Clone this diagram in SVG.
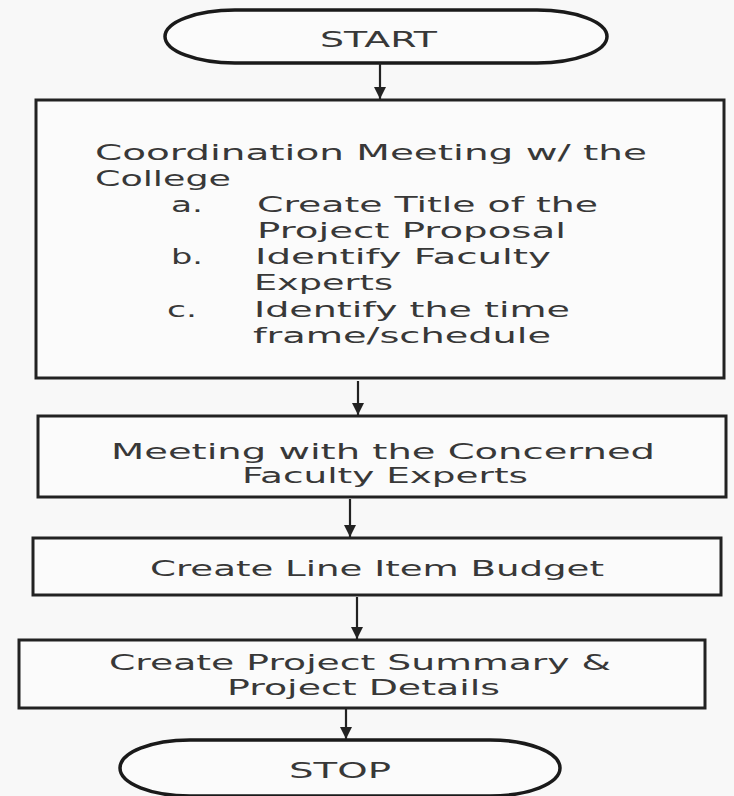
<svg xmlns="http://www.w3.org/2000/svg" width="734" height="796" viewBox="0 0 734 796">
<defs>
<marker id="ah" markerWidth="14" markerHeight="12" refX="12" refY="6" orient="auto" markerUnits="userSpaceOnUse">
<path d="M0,0 L12,6 L0,12 Z" fill="#222"/>
</marker>
<style>
.box{fill:#fbfbfb;stroke:#222;stroke-width:3}
.term{fill:#fbfbfb;stroke:#1a1a1a;stroke-width:3.5}
.t{font-family:"DejaVu Sans","Noto Sans",sans-serif;font-size:21px;fill:#383838}
.conn{stroke:#222;stroke-width:2.2;fill:none;marker-end:url(#ah)}
</style>
</defs>
<rect width="734" height="796" fill="#f8f8f8"/>
<g id="start">
<rect class="term" x="165" y="10" width="442" height="53" rx="70" ry="26.5"/>
<text class="t" x="320" y="47" textLength="117" lengthAdjust="spacingAndGlyphs">START</text>
</g>
<g id="coordination">
<rect class="box" x="36" y="100" width="688" height="278"/>
<text class="t" x="95" y="160" textLength="552" lengthAdjust="spacingAndGlyphs">Coordination Meeting w/ the</text>
<text class="t" x="95" y="186" textLength="136" lengthAdjust="spacingAndGlyphs">College</text>
<text class="t" x="171" y="212" textLength="32" lengthAdjust="spacingAndGlyphs">a.</text>
<text class="t" x="257" y="212" textLength="341" lengthAdjust="spacingAndGlyphs">Create Title of the</text>
<text class="t" x="257" y="238" textLength="309" lengthAdjust="spacingAndGlyphs">Project Proposal</text>
<text class="t" x="171" y="264" textLength="32" lengthAdjust="spacingAndGlyphs">b.</text>
<text class="t" x="255" y="264" textLength="296" lengthAdjust="spacingAndGlyphs">Identify Faculty</text>
<text class="t" x="254" y="290" textLength="139" lengthAdjust="spacingAndGlyphs">Experts</text>
<text class="t" x="167" y="317" textLength="30" lengthAdjust="spacingAndGlyphs">c.</text>
<text class="t" x="254" y="317" textLength="316" lengthAdjust="spacingAndGlyphs">Identify the time</text>
<text class="t" x="253" y="343" textLength="298" lengthAdjust="spacingAndGlyphs">frame/schedule</text>
</g>
<g id="meeting">
<rect class="box" x="38" y="416" width="688" height="81"/>
<text class="t" x="111" y="459" textLength="544" lengthAdjust="spacingAndGlyphs">Meeting with the Concerned</text>
<text class="t" x="242" y="483" textLength="286" lengthAdjust="spacingAndGlyphs">Faculty Experts</text>
</g>
<g id="budget">
<rect class="box" x="33" y="538" width="688" height="57"/>
<text class="t" x="150" y="576" textLength="454" lengthAdjust="spacingAndGlyphs">Create Line Item Budget</text>
</g>
<g id="summary">
<rect class="box" x="19" y="640" width="686" height="68"/>
<text class="t" x="109" y="670" textLength="502" lengthAdjust="spacingAndGlyphs">Create Project Summary &amp;</text>
<text class="t" x="227" y="695" textLength="273" lengthAdjust="spacingAndGlyphs">Project Details</text>
</g>
<g id="stop">
<rect class="term" x="120" y="740" width="440" height="56" rx="70" ry="28"/>
<text class="t" x="289" y="778" textLength="102" lengthAdjust="spacingAndGlyphs">STOP</text>
</g>
<g id="connectors">
<line class="conn" x1="380" y1="63" x2="380" y2="99"/>
<line class="conn" x1="358" y1="381" x2="358" y2="415"/>
<line class="conn" x1="350" y1="499" x2="350" y2="537"/>
<line class="conn" x1="357" y1="597" x2="357" y2="639"/>
<line class="conn" x1="346" y1="709" x2="346" y2="739"/>
</g>
</svg>
